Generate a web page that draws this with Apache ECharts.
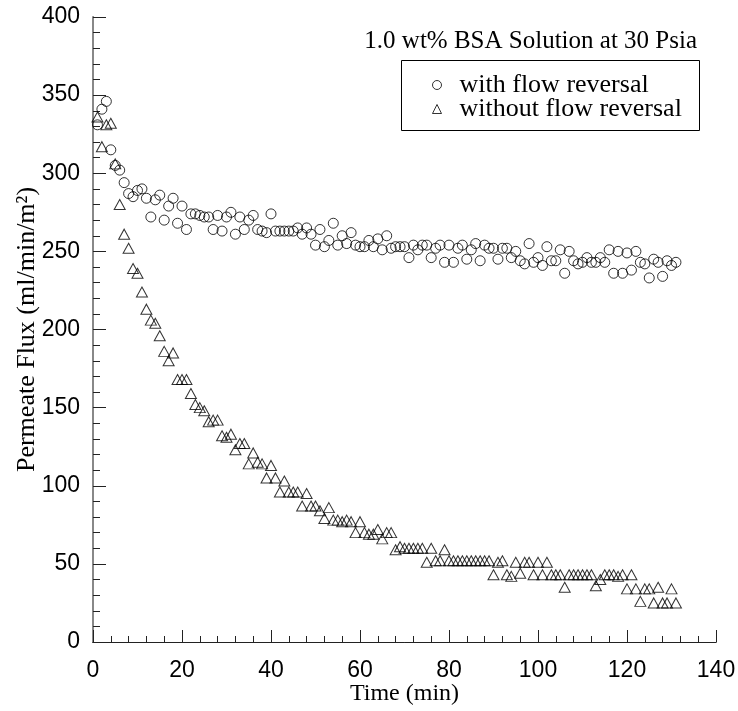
<!DOCTYPE html>
<html><head><meta charset="utf-8">
<script src="https://cdn.jsdelivr.net/npm/echarts@6/dist/echarts.min.js"></script>
<style>html,body{margin:0;padding:0;background:#fff}#c{width:738px;height:711px}</style>
</head><body><div id="c"></div>
<script>
const timeMin = [1,2,3,4,5,6,7,8,9,10,11,12,13,14,15,16,17,18,19,20,21,22,23,24,25,26,27,28,29,30,
31,32,33,34,35,36,37,38,39,40,41,42,43,44,45,46,47,48,49,50,51,52,53,54,55,56,57,58,59,60,
61,62,63,64,65,66,67,68,69,70,71,72,73,74,75,76,77,78,79,80,81,82,83,84,85,86,87,88,89,90,
91,92,93,94,95,96,97,98,99,100,101,102,103,104,105,106,107,108,109,110,111,112,113,114,115,116,117,118,119,120,
121,122,123,124,125,126,127,128,129,130,131];
const fluxWithReversal = [331,341,346,315,305,302,294,287,285,289,290,284,272,283,286,270,279,284,268,279,
264,274,274,273,272,272,264,273,263,272,275,261,272,264,270,273,264,263,262,274,
263,263,263,263,263,265,261,265,261,254,264,253,257,268,254,260,255,262,254,253,
253,257,253,258,251,260,252,253,253,253,246,254,251,254,254,246,252,254,243,254,
243,252,254,245,251,255,244,254,252,252,245,252,252,246,250,244,242,255,243,246,
241,253,244,244,251,236,250,244,242,243,246,243,243,246,243,251,236,250,236,249,
238,250,243,242,233,245,243,234,244,241,243];
const fluxWithoutReversal = [336,317,331,332,306,280,261,252,239,236,224,213,206,204,196,186,180,185,168,168,
168,159,152,150,148,141,142,142,132,131,133,123,127,127,114,121,115,114,105,113,
105,96,103,96,96,96,87,95,87,87,84,79,86,78,78,77,78,77,70,77,
70,69,69,72,66,70,70,59,61,60,60,60,60,60,51,60,52,52,59,52,
52,52,52,52,52,52,52,52,52,43,51,52,43,42,51,44,51,51,43,51,
43,51,43,43,43,35,43,43,43,43,43,43,36,40,43,43,43,42,43,34,
43,34,26,34,34,25,35,25,25,34,25];
const xTickValues = [0,20,40,60,80,100,120,140];
const yTickValues = [0,50,100,150,200,250,300,350,400];
const seriesNames = ['with flow reversal','without flow reversal'];
const chartTitle = '1.0 wt% BSA Solution at 30 Psia';

const chart = echarts.init(document.getElementById('c'), null, {renderer:'canvas'});
const serif = 'Liberation Serif, Times New Roman, serif';
const sans = 'Liberation Sans, Arial, sans-serif';
const axisCol = '#222';
const hollow = {color:'rgba(0,0,0,0)', borderColor:'#000', borderWidth:1};

chart.setOption({
  animation:false,
  backgroundColor:'#fff',
  title:{text:chartTitle, right:41, top:29, padding:0,
    textStyle:{fontFamily:serif, fontSize:25, fontWeight:'normal', color:'#000'}},
  legend:{orient:'vertical', left:427, top:67, itemWidth:9, itemHeight:9, itemGap:-2,
    textStyle:{fontFamily:serif, fontSize:26, color:'#000', padding:[0,0,0,13]},
    data:[{name:seriesNames[0], icon:'circle', itemStyle:hollow},{name:seriesNames[1], icon:'triangle', itemStyle:hollow}]},
  graphic:[{type:'rect', left:399, top:58, shape:{width:298, height:70}, style:{fill:'none', stroke:'#000', lineWidth:1}, z:10}],
  grid:{left:93, right:22, top:17, bottom:69, outerBoundsMode:'none', containLabel:false},
  xAxis:[{type:'value', min:xTickValues[0], max:xTickValues[xTickValues.length-1], interval:20,
    axisLine:{show:true, onZero:false, lineStyle:{color:axisCol}},
    axisTick:{show:true, inside:true, length:12, lineStyle:{color:axisCol}},
    minorTick:{show:true, splitNumber:5, length:6, lineStyle:{color:axisCol}},
    splitLine:{show:false},
    axisLabel:{fontFamily:sans, fontSize:23, color:'#000', margin:17},
    name:'Time (min)', nameLocation:'middle', nameGap:40, nameMoveOverlap:false,
    nameTextStyle:{fontFamily:serif, fontSize:24, color:'#000'}},
   {type:'value', position:'top', min:0, max:140,
    axisLine:{show:true, lineStyle:{color:axisCol}}, axisTick:{show:false}, axisLabel:{show:false}, splitLine:{show:false}}],
  yAxis:[{type:'value', min:yTickValues[0], max:yTickValues[yTickValues.length-1], interval:50,
    axisLine:{show:true, onZero:false, lineStyle:{color:axisCol}},
    axisTick:{show:true, inside:true, length:13, lineStyle:{color:axisCol}},
    minorTick:{show:true, splitNumber:5, length:7, lineStyle:{color:axisCol}},
    splitLine:{show:false},
    axisLabel:{fontFamily:sans, fontSize:23, color:'#000', margin:13},
    name:'Permeate Flux (ml/min/m²)', nameLocation:'middle', nameGap:53, nameMoveOverlap:false,
    nameTextStyle:{fontFamily:serif, fontSize:26, color:'#000'}},
   {type:'value', position:'right', min:0, max:400,
    axisLine:{show:true, lineStyle:{color:'#888', width:2}}, axisTick:{show:false}, axisLabel:{show:false}, splitLine:{show:false}}],
  series:[
    {name:seriesNames[0], type:'scatter', symbol:'circle', symbolSize:10, itemStyle:hollow,
     data:timeMin.map((t,i)=>[t, fluxWithReversal[i]])},
    {name:seriesNames[1], type:'scatter', symbol:'triangle', symbolSize:[11,10], itemStyle:hollow,
     data:timeMin.map((t,i)=>[t, fluxWithoutReversal[i]])}
  ]
});
</script></body></html>
